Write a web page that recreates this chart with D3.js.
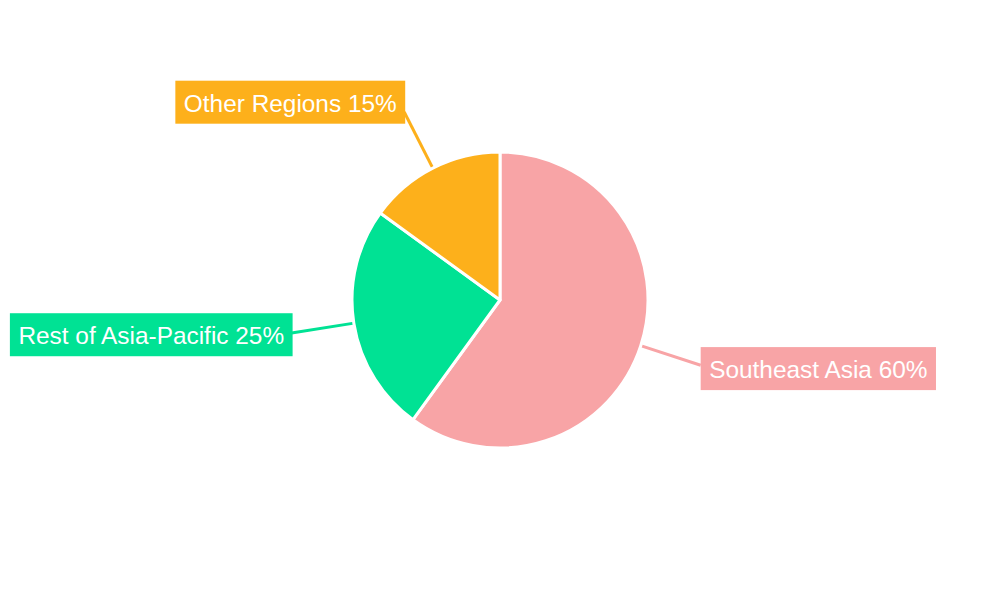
<!DOCTYPE html>
<html>
<head>
<meta charset="utf-8">
<script src="https://cdn.jsdelivr.net/npm/d3@7"></script>
<style>
  html, body { margin: 0; padding: 0; background: #ffffff; }
  svg { display: block; font-family: "Liberation Sans", Arial, sans-serif; }
</style>
</head>
<body>
<svg id="chart" width="1000" height="600"></svg>
<script>
const categories = ["Southeast Asia", "Rest of Asia-Pacific", "Other Regions"];
const shares = [60, 25, 15];
const colors = ["#f8a4a6", "#00e294", "#fdb01b"];

const width = 1000, height = 600;
const cx = 500, cy = 300, radius = 148, labelRadius = 211;

const svg = d3.select("#chart");
const g = svg.append("g").attr("transform", `translate(${cx},${cy})`);

const data = categories.map((c, i) => ({ name: c, value: shares[i], color: colors[i] }));
const pie = d3.pie().value(d => d.value).sort(null);
const arcs = pie(data);
const arc = d3.arc().innerRadius(0).outerRadius(radius);

// leader lines
arcs.forEach(a => {
  const mid = (a.startAngle + a.endAngle) / 2;
  const sx = Math.sin(mid), sy = -Math.cos(mid);
  g.append("line")
    .attr("x1", sx * (radius - 5)).attr("y1", sy * (radius - 5))
    .attr("x2", sx * labelRadius).attr("y2", sy * labelRadius)
    .attr("stroke", a.data.color).attr("stroke-width", 3);
});

// slices
g.selectAll("path.slice").data(arcs).enter().append("path")
  .attr("class", "slice")
  .attr("d", arc)
  .attr("fill", d => d.data.color)
  .attr("stroke", "#ffffff").attr("stroke-width", 3).attr("stroke-linejoin", "round");

// labels
const fontSize = 24.4, padX = 8.5, boxH = 43;
arcs.forEach(a => {
  const mid = (a.startAngle + a.endAngle) / 2;
  const sx = Math.sin(mid), sy = -Math.cos(mid);
  const ex = sx * labelRadius, ey = sy * labelRadius;
  const right = sx > 0;
  const lg = g.append("g");
  const rect = lg.append("rect").attr("fill", a.data.color);
  const text = lg.append("text")
    .attr("fill", "#ffffff")
    .attr("font-size", fontSize)
    .attr("dominant-baseline", "central")
    .text(`${a.data.name} ${a.data.value}%`);
  const tw = text.node().getComputedTextLength();
  const boxW = tw + 2 * padX;
  const boxCy = ey - 11 * Math.cos(mid);
  const boxX = right ? ex : ex - boxW + 1;
  rect.attr("x", boxX).attr("y", boxCy - boxH / 2).attr("width", boxW).attr("height", boxH);
  text.attr("x", boxX + padX).attr("y", boxCy + 1);
});
</script>
</body>
</html>
